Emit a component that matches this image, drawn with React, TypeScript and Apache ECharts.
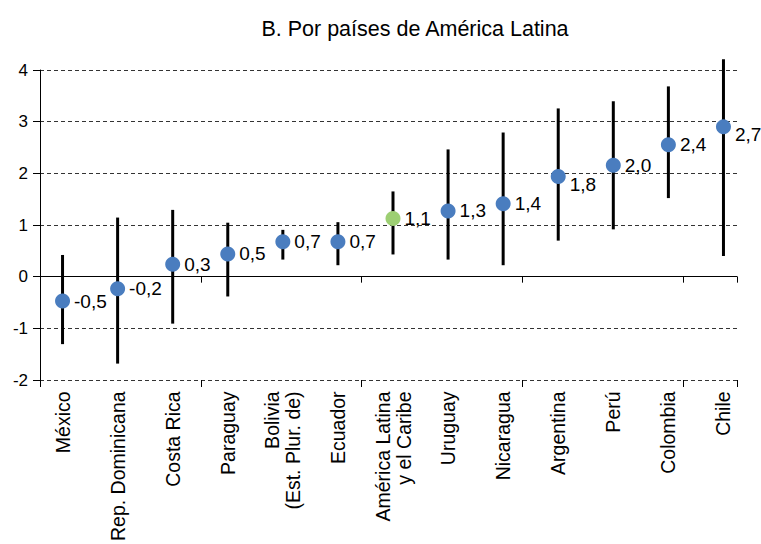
import React, { useEffect, useRef } from "react";
import * as echarts from "echarts";

const categories = [
  "México",
  "Rep. Dominicana",
  "Costa Rica",
  "Paraguay",
  "Bolivia\n(Est. Plur. de)",
  "Ecuador",
  "América Latina\ny el Caribe",
  "Uruguay",
  "Nicaragua",
  "Argentina",
  "Perú",
  "Colombia",
  "Chile",
];
const pointValues = [-0.51, -0.27, 0.21, 0.41, 0.65, 0.65, 1.1, 1.25, 1.39, 1.92, 2.14, 2.54, 2.89];
const pointLabels = ["-0,5", "-0,2", "0,3", "0,5", "0,7", "0,7", "1,1", "1,3", "1,4", "1,8", "2,0", "2,4", "2,7"];
const lowValues = [-1.35, -1.73, -0.95, -0.42, 0.3, 0.19, 0.4, 0.3, 0.19, 0.67, 0.89, 1.5, 0.37];
const highValues = [0.39, 1.12, 1.27, 1.02, 0.88, 1.03, 1.63, 2.45, 2.78, 3.25, 3.39, 3.68, 4.21];
const yTicks = { min: -2, max: 4, interval: 1 };
const highlightIndex = 6;
const lowLabelIndices = [9, 12];

const FONT = "'Liberation Sans', Arial, sans-serif";

export default function App() {
  const ref = useRef<HTMLDivElement>(null);
  useEffect(() => {
    document.body.style.margin = "0";
    if (!ref.current) return;
    const chart = echarts.init(ref.current, null, { renderer: "svg" });
    const gridTop = 70;
    const gridBottom = 164;
    const option: any = {
      animation: false,
      backgroundColor: "#fff",
      title: {
        text: "B. Por países de América Latina",
        left: 410,
        top: 13,
        textAlign: "center",
        textStyle: { fontFamily: FONT, fontSize: 21.5, fontWeight: "normal", color: "#000" },
      },
      grid: [
        { left: 40, right: 24, top: gridTop, bottom: gridBottom },
        { left: 35, right: 10, top: gridTop, bottom: gridBottom },
      ],
      yAxis: [
        {
          type: "value",
          gridIndex: 0,
          min: yTicks.min,
          max: yTicks.max,
          interval: yTicks.interval,
          axisLine: { show: true, lineStyle: { color: "#000", width: 1 } },
          axisTick: { show: true, length: 7, lineStyle: { color: "#000" } },
          axisLabel: { margin: 12, fontFamily: FONT, fontSize: 17, color: "#000" },
          splitLine: { show: true, lineStyle: { color: "#333", type: [4, 3], width: 1 } },
        },
        {
          type: "value",
          gridIndex: 1,
          min: yTicks.min,
          max: yTicks.max,
          interval: yTicks.interval,
          show: false,
          splitLine: { show: false },
        },
      ],
      xAxis: [
        {
          type: "category",
          gridIndex: 0,
          data: categories,
          boundaryGap: true,
          axisLine: { show: true, onZero: true, lineStyle: { color: "#000", width: 1 } },
          axisTick: { show: true, length: 6, lineStyle: { color: "#000" } },
          axisLabel: { show: false },
          splitLine: { show: false },
        },
        {
          type: "category",
          gridIndex: 0,
          data: categories,
          position: "bottom",
          boundaryGap: true,
          axisLine: { show: false, onZero: false },
          axisTick: { show: true, length: 7, lineStyle: { color: "#000" } },
          axisLabel: { show: false },
          splitLine: { show: false },
        },
        {
          type: "category",
          gridIndex: 1,
          data: categories,
          position: "bottom",
          boundaryGap: true,
          axisLine: { show: false, onZero: false },
          axisTick: { show: false },
          axisLabel: {
            show: true,
            interval: 0,
            rotate: 90,
            margin: 14,
            fontFamily: FONT,
            fontSize: 19.5,
            lineHeight: 21,
            color: "#000",
          },
          splitLine: { show: false },
        },
      ],
      series: [
        {
          type: "custom",
          xAxisIndex: 2,
          yAxisIndex: 1,
          clip: false,
          z: 2,
          data: categories.map((_, i) => [i, lowValues[i], highValues[i]]),
          encode: { x: 0, y: [1, 2] },
          renderItem: (params: any, api: any) => {
            const i = api.value(0);
            const p1 = api.coord([i, api.value(1)]);
            const p2 = api.coord([i, api.value(2)]);
            return {
              type: "line",
              shape: { x1: p1[0], y1: p1[1], x2: p2[0], y2: p2[1] },
              style: { stroke: "#000", lineWidth: 3 },
            };
          },
        },
        {
          type: "scatter",
          xAxisIndex: 2,
          yAxisIndex: 1,
          z: 3,
          symbol: "circle",
          symbolSize: 15,
          itemStyle: { color: "#4a7dbf", opacity: 1 },
          data: pointValues.map((v, i) => {
            const item: any = { value: [i, v] };
            if (i === highlightIndex) item.itemStyle = { color: "#9dcf73", opacity: 1 };
            if (lowLabelIndices.includes(i)) item.label = { offset: [0, 8] };
            return item;
          }),
          label: {
            show: true,
            position: "right",
            distance: 4,
            fontFamily: FONT,
            fontSize: 19,
            color: "#000",
            formatter: (p: any) => pointLabels[p.dataIndex],
          },
        },
      ],
    };
    chart.setOption(option);
    return () => chart.dispose();
  }, []);
  return <div ref={ref} style={{ width: 761, height: 544 }} />;
}
